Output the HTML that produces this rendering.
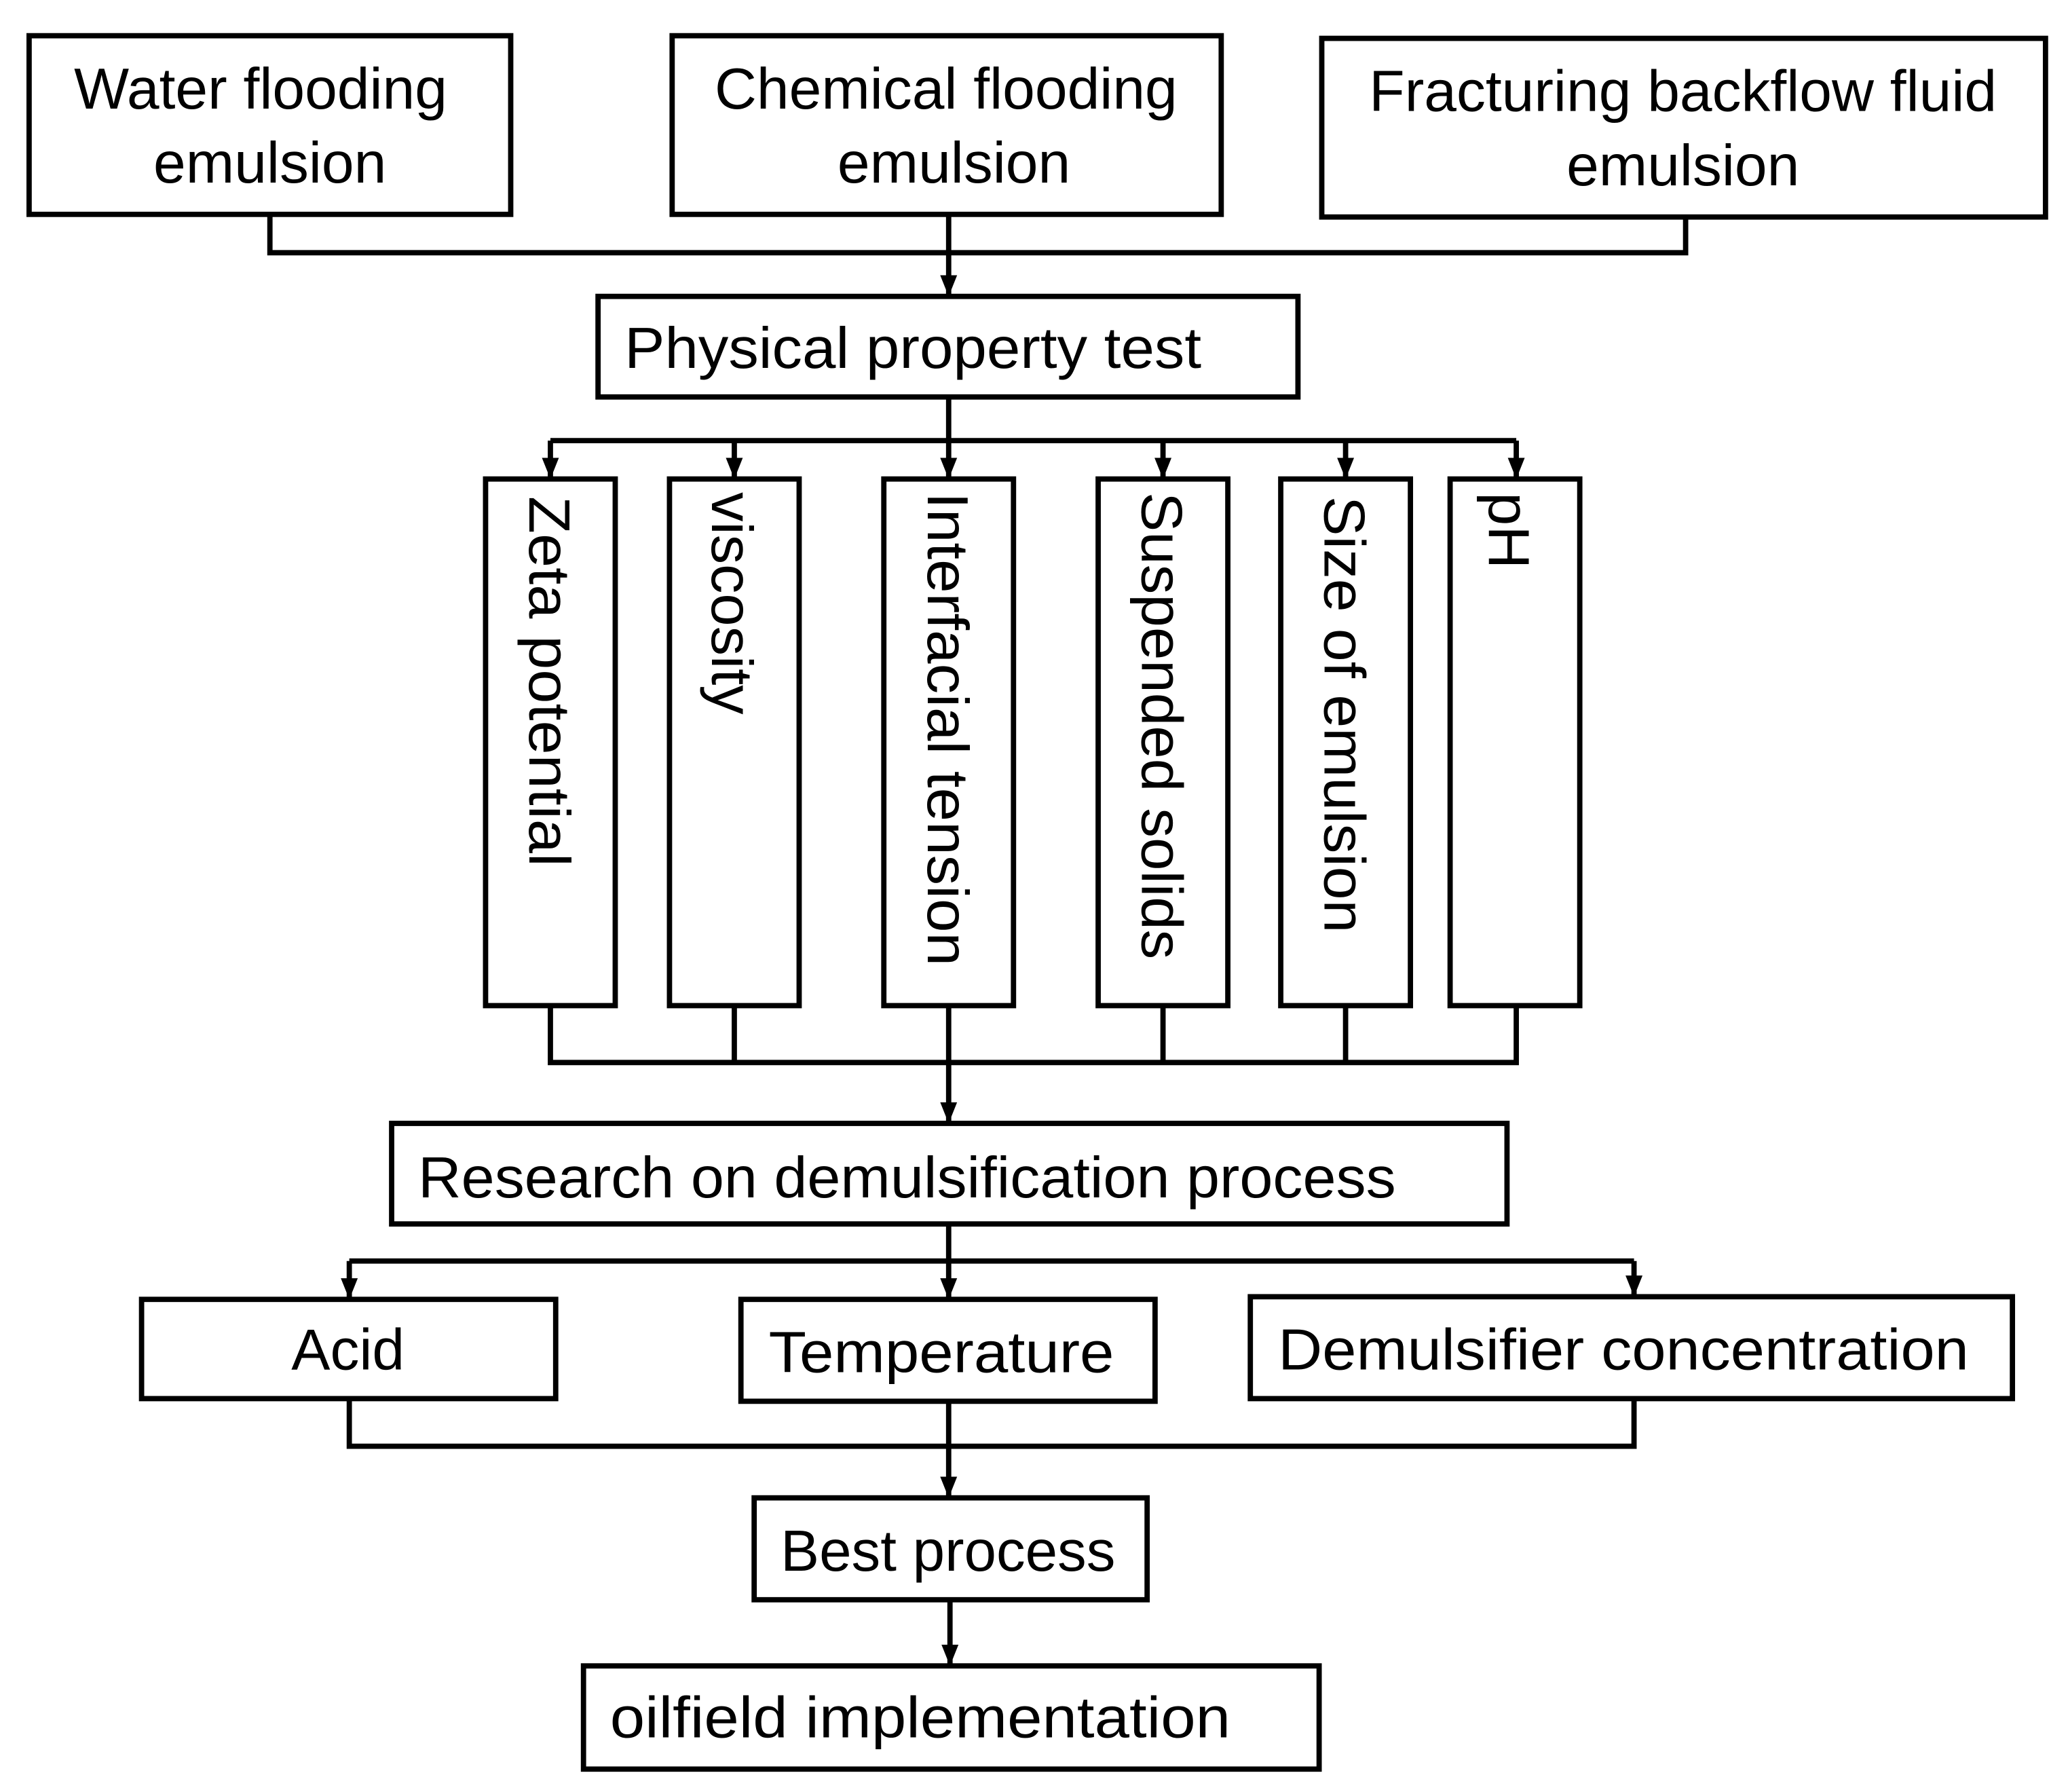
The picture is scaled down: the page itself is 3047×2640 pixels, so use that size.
<!DOCTYPE html>
<html><head><meta charset="utf-8"><style>
html,body{margin:0;padding:0;background:#fff;}
svg{display:block;}
text{font-family:"Liberation Sans",sans-serif;fill:#000;font-size:44px;}
</style></head><body>
<svg width="3047" height="2640" viewBox="0 0 1563 1354.3" preserveAspectRatio="none" xmlns="http://www.w3.org/2000/svg">
<defs><marker id="a" viewBox="0 0 10 10" refX="10" refY="5" markerWidth="4" markerHeight="4" markerUnits="strokeWidth" orient="auto"><path d="M0,1 L10,5 L0,9 Z" fill="#000"/></marker></defs>
<g fill="none" stroke="#000" stroke-width="4">
<rect x="22" y="27" width="364" height="135"/>
<rect x="508" y="27" width="415" height="135"/>
<rect x="999" y="29" width="547" height="135"/>
<polyline points="204,162 204,191 1274,191 1274,164"/>
<line x1="717" y1="162" x2="717" y2="224" marker-end="url(#a)"/>
<rect x="452" y="224" width="529" height="76"/>
<line x1="717" y1="300" x2="717" y2="362" marker-end="url(#a)"/>
<line x1="416" y1="333" x2="1146" y2="333"/>
<line x1="416" y1="333" x2="416" y2="362" marker-end="url(#a)"/>
<line x1="555" y1="333" x2="555" y2="362" marker-end="url(#a)"/>
<line x1="879" y1="333" x2="879" y2="362" marker-end="url(#a)"/>
<line x1="1017" y1="333" x2="1017" y2="362" marker-end="url(#a)"/>
<line x1="1146" y1="333" x2="1146" y2="362" marker-end="url(#a)"/>
<rect x="367" y="362" width="98" height="398"/>
<rect x="506" y="362" width="98" height="398"/>
<rect x="668" y="362" width="98" height="398"/>
<rect x="830" y="362" width="98" height="398"/>
<rect x="968" y="362" width="98" height="398"/>
<rect x="1096" y="362" width="98" height="398"/>
<polyline points="416,760 416,803 1146,803 1146,760"/>
<line x1="555" y1="760" x2="555" y2="803"/>
<line x1="879" y1="760" x2="879" y2="803"/>
<line x1="1017" y1="760" x2="1017" y2="803"/>
<line x1="717" y1="760" x2="717" y2="849" marker-end="url(#a)"/>
<rect x="296" y="849" width="843" height="76"/>
<line x1="717" y1="925" x2="717" y2="982" marker-end="url(#a)"/>
<line x1="264" y1="953" x2="1235" y2="953"/>
<line x1="264" y1="953" x2="264" y2="982" marker-end="url(#a)"/>
<line x1="1235" y1="953" x2="1235" y2="980" marker-end="url(#a)"/>
<rect x="107" y="982" width="313" height="75"/>
<rect x="560" y="982" width="313" height="77"/>
<rect x="945" y="980" width="576" height="77"/>
<polyline points="264,1057 264,1093 1235,1093 1235,1057"/>
<line x1="717" y1="1059" x2="717" y2="1132" marker-end="url(#a)"/>
<rect x="570" y="1132" width="297" height="77"/>
<line x1="718" y1="1209" x2="718" y2="1259" marker-end="url(#a)"/>
<rect x="441" y="1259" width="556" height="78"/>
</g>
<text x="197" y="82" text-anchor="middle">Water flooding</text>
<text x="204" y="138" text-anchor="middle">emulsion</text>
<text x="715" y="82" text-anchor="middle">Chemical flooding</text>
<text x="721" y="138" text-anchor="middle">emulsion</text>
<text x="1272" y="84" text-anchor="middle">Fracturing backflow fluid</text>
<text x="1272" y="140" text-anchor="middle">emulsion</text>
<text x="472" y="278" textLength="436" lengthAdjust="spacingAndGlyphs">Physical property test</text>
<g dominant-baseline="central">
<text transform="translate(415,375) rotate(90)" textLength="280" lengthAdjust="spacingAndGlyphs">Zeta potential</text>
<text transform="translate(553,372) rotate(90)" textLength="168" lengthAdjust="spacingAndGlyphs">viscosity</text>
<text transform="translate(716,372) rotate(90)" textLength="358" lengthAdjust="spacingAndGlyphs">Interfacial tension</text>
<text transform="translate(878,372) rotate(90)" textLength="353" lengthAdjust="spacingAndGlyphs">Suspended solids</text>
<text transform="translate(1016,375) rotate(90)" textLength="330" lengthAdjust="spacingAndGlyphs">Size of emulsion</text>
<text transform="translate(1140,372) rotate(90)" textLength="58" lengthAdjust="spacingAndGlyphs">pH</text>
</g>
<text x="316" y="905" textLength="739" lengthAdjust="spacingAndGlyphs">Research on demulsification process</text>
<text x="263" y="1035" text-anchor="middle">Acid</text>
<text x="581" y="1037" textLength="261" lengthAdjust="spacingAndGlyphs">Temperature</text>
<text x="966" y="1035" textLength="522" lengthAdjust="spacingAndGlyphs">Demulsifier concentration</text>
<text x="590" y="1187" textLength="253" lengthAdjust="spacingAndGlyphs">Best process</text>
<text x="461" y="1313" textLength="469" lengthAdjust="spacingAndGlyphs">oilfield implementation</text>
</svg>
</body></html>
